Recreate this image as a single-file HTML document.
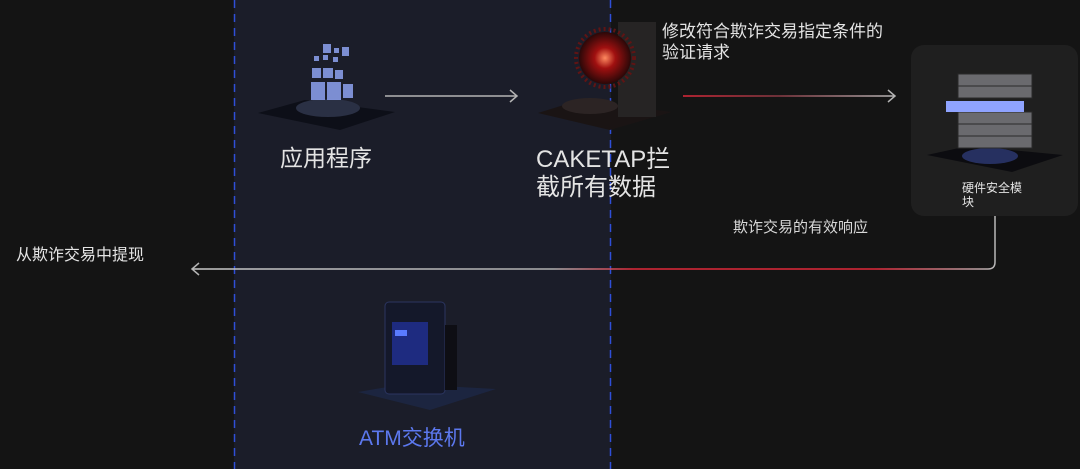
<!DOCTYPE html>
<html><head><meta charset="utf-8"><style>
html,body{margin:0;padding:0;background:#141414;}
svg{display:block}
text{font-family:"Liberation Sans","Noto Sans CJK SC",sans-serif;}
</style></head><body>
<svg width="1080" height="469" viewBox="0 0 1080 469" xmlns="http://www.w3.org/2000/svg">
<defs>
<linearGradient id="rg1" gradientUnits="userSpaceOnUse" x1="683" y1="0" x2="895" y2="0"><stop offset="0" stop-color="#e0283a"/><stop offset="0.45" stop-color="#8a3a44"/><stop offset="1" stop-color="#b8b8b8"/></linearGradient>
<linearGradient id="rg2" gradientUnits="userSpaceOnUse" x1="192" y1="0" x2="995" y2="0"><stop offset="0" stop-color="#c8c8c8"/><stop offset="0.45" stop-color="#b0b0b0"/><stop offset="0.55" stop-color="#e0283a"/><stop offset="0.85" stop-color="#e0283a"/><stop offset="1" stop-color="#b8b8b8"/></linearGradient>
<radialGradient id="virus"><stop offset="0" stop-color="#ff8a60"/><stop offset="0.4" stop-color="#a01010"/><stop offset="1" stop-color="#2a0808"/></radialGradient>
</defs>
<rect width="1080" height="469" fill="#141414"/>
<rect x="234" y="0" width="377" height="469" fill="#1b1d29"/>
<line x1="234.5" y1="0" x2="234.5" y2="469" stroke="#2f4fd8" stroke-width="1.5" stroke-dasharray="8,6"/>
<line x1="610.5" y1="0" x2="610.5" y2="469" stroke="#2f4fd8" stroke-width="1.5" stroke-dasharray="8,6"/>

<!-- app icon -->
<polygon points="258,113 305,100 395,112 340,130" fill="#0d0f18"/>
<ellipse cx="328" cy="108" rx="32" ry="9" fill="#2a3044"/>
<g fill="#8ea2f0" opacity="0.85">
<rect x="311" y="82" width="14" height="18"/><rect x="327" y="82" width="14" height="18"/><rect x="343" y="84" width="10" height="14"/>
<rect x="312" y="68" width="9" height="10"/><rect x="323" y="68" width="10" height="10"/><rect x="335" y="70" width="8" height="9"/>
<rect x="314" y="56" width="5" height="5"/><rect x="323" y="55" width="5" height="5"/><rect x="333" y="57" width="5" height="5"/>
<rect x="323" y="44" width="8" height="9"/><rect x="334" y="48" width="5" height="5"/><rect x="342" y="47" width="7" height="9"/>
</g>
<text x="280" y="166" font-size="23" fill="#e4e4e4">应用程序</text>

<line x1="385" y1="96" x2="516" y2="96" stroke="#b4b4b4" stroke-width="1.5"/>
<polyline points="510,90 517,96 510,102" fill="none" stroke="#b4b4b4" stroke-width="1.5"/>

<!-- cake icon -->
<polygon points="538,113 580,100 672,112 610,130" fill="#1a1414"/>
<rect x="618" y="22" width="38" height="95" fill="#262424"/>
<ellipse cx="590" cy="106" rx="28" ry="8" fill="#2c2424"/>
<circle cx="605" cy="58" r="26" fill="url(#virus)"/>
<circle cx="605" cy="58" r="29" fill="none" stroke="#601414" stroke-width="4" stroke-dasharray="2,3"/>
<text x="536" y="167" font-size="24" fill="#e4e4e4">CAKETAP拦</text>
<text x="536" y="195" font-size="24" fill="#e4e4e4">截所有数据</text>

<text x="662" y="37" font-size="17" fill="#e4e4e4">修改符合欺诈交易指定条件的</text>
<text x="662" y="58" font-size="17" fill="#e4e4e4">验证请求</text>

<line x1="683" y1="96" x2="895" y2="96" stroke="url(#rg1)" stroke-width="1.5"/>
<polyline points="888,90 895,96 888,102" fill="none" stroke="#b4b4b4" stroke-width="1.5"/>

<!-- HSM card -->
<rect x="911" y="45" width="167" height="171" rx="13" fill="#1f1f1f"/>
<polygon points="927,155 968,146 1063,155 1012,172" fill="#0c0c10"/>
<ellipse cx="990" cy="156" rx="28" ry="8" fill="#263060"/>
<g fill="#6a6a6e" stroke="#2a2a2a">
<rect x="958" y="136" width="74" height="12"/><rect x="958" y="124" width="74" height="12"/><rect x="958" y="112" width="74" height="12"/>
<rect x="958" y="86" width="74" height="12"/><rect x="958" y="74" width="74" height="12"/>
</g>
<rect x="946" y="101" width="78" height="11" fill="#8fa3ff"/>
<text x="962" y="192" font-size="12" fill="#e4e4e4">硬件安全模</text>
<text x="962" y="206" font-size="12" fill="#e4e4e4">块</text>

<text x="733" y="232" font-size="15" fill="#d8d8d8">欺诈交易的有效响应</text>

<path d="M995,216 V262 Q995,269 988,269 H192" fill="none" stroke="url(#rg2)" stroke-width="1.5"/>
<polyline points="199,263 192,269 199,275" fill="none" stroke="#b4b4b4" stroke-width="1.5"/>
<text x="16" y="260" font-size="16" fill="#e4e4e4">从欺诈交易中提现</text>

<!-- ATM -->
<polygon points="358,392 405,384 496,389 430,410" fill="#1c2540"/>
<rect x="385" y="302" width="60" height="92" rx="4" fill="#14182a" stroke="#2b3560"/>
<rect x="392" y="322" width="36" height="43" fill="#1e2b80"/>
<rect x="395" y="330" width="12" height="6" fill="#5a7bff"/>
<rect x="445" y="325" width="12" height="65" fill="#0e0e14"/>
<text x="359" y="445" font-size="21" fill="#5c78ee">ATM交换机</text>
</svg>
</body></html>
